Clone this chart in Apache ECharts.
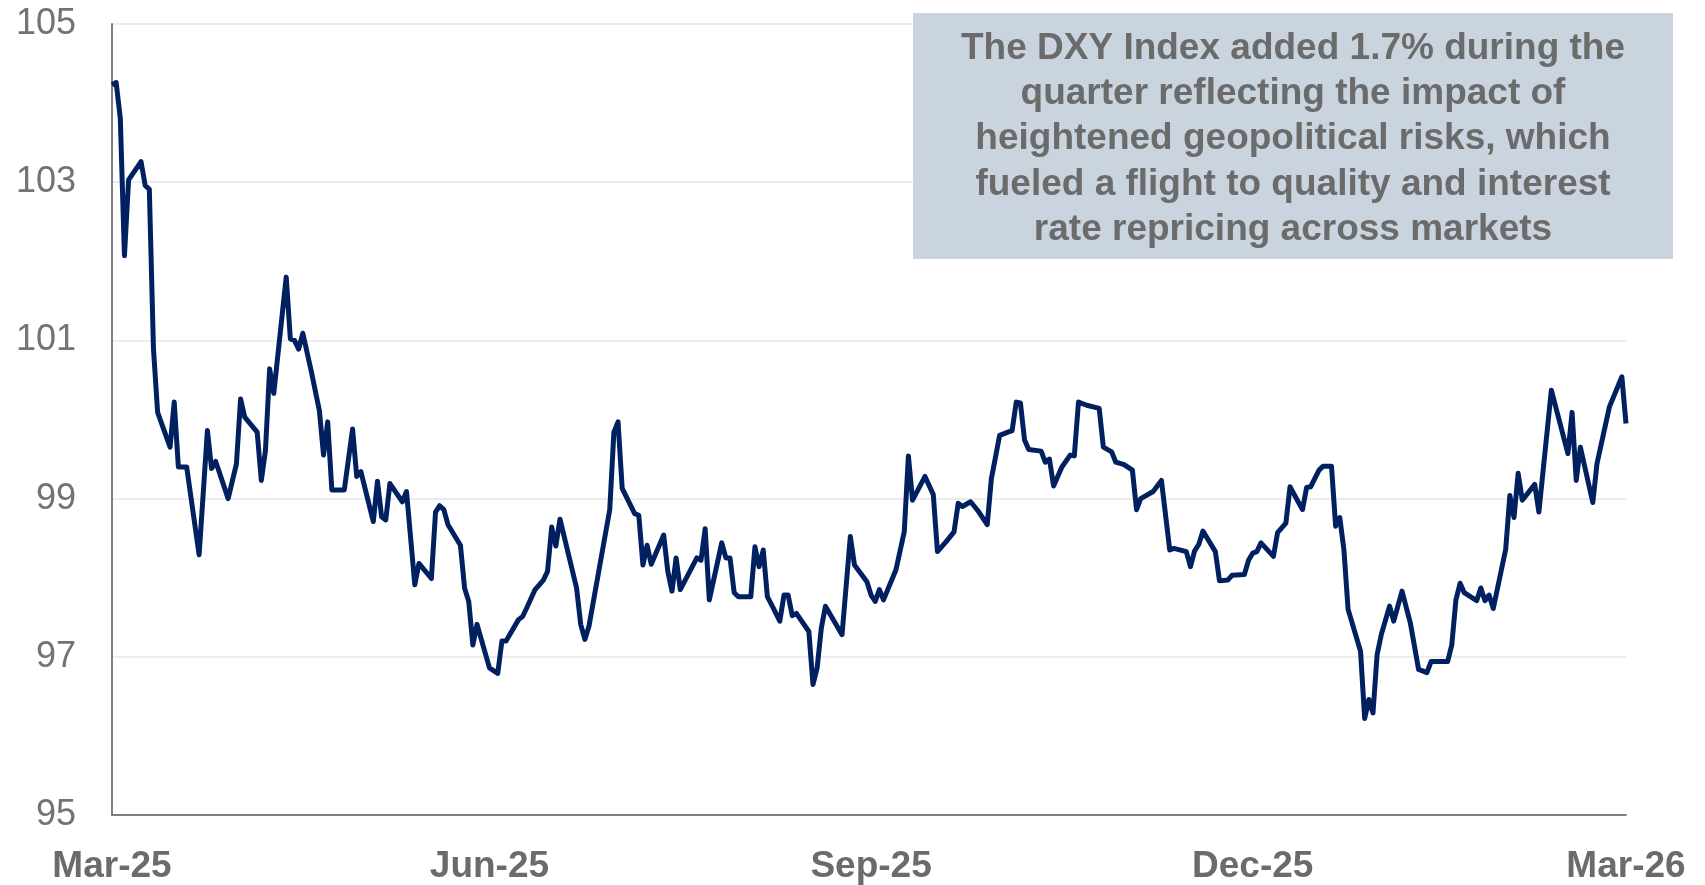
<!DOCTYPE html>
<html>
<head>
<meta charset="utf-8">
<title>DXY Index</title>
<script src="https://cdn.jsdelivr.net/npm/echarts@6/dist/echarts.min.js"></script>
<style>
    html, body { margin: 0; padding: 0; background: #fff; }
    #chart { width: 1705px; height: 885px; }
</style>
</head>
<body>
<div id="chart"></div>
<script>
    // DXY index (vertices of the line)
    const dates = [
        '2025-03-31', '2025-04-01', '2025-04-02', '2025-04-03', '2025-04-04', '2025-04-07', '2025-04-08', '2025-04-09',
        '2025-04-10', '2025-04-11', '2025-04-14', '2025-04-15', '2025-04-16', '2025-04-18', '2025-04-21', '2025-04-23',
        '2025-04-24', '2025-04-25', '2025-04-28', '2025-04-30', '2025-05-01', '2025-05-02', '2025-05-05', '2025-05-06',
        '2025-05-07', '2025-05-08', '2025-05-09', '2025-05-12', '2025-05-13', '2025-05-14', '2025-05-15', '2025-05-16',
        '2025-05-18', '2025-05-20', '2025-05-21', '2025-05-22', '2025-05-23', '2025-05-26', '2025-05-28', '2025-05-29',
        '2025-05-30', '2025-06-02', '2025-06-03', '2025-06-04', '2025-06-05', '2025-06-06', '2025-06-09', '2025-06-10',
        '2025-06-12', '2025-06-13', '2025-06-16', '2025-06-17', '2025-06-18', '2025-06-19', '2025-06-20', '2025-06-23',
        '2025-06-24', '2025-06-25', '2025-06-26', '2025-06-27', '2025-06-30', '2025-07-02', '2025-07-03', '2025-07-04',
        '2025-07-07', '2025-07-08', '2025-07-09', '2025-07-11', '2025-07-13', '2025-07-14', '2025-07-15', '2025-07-16',
        '2025-07-17', '2025-07-21', '2025-07-22', '2025-07-23', '2025-07-24', '2025-07-29', '2025-07-30', '2025-07-31',
        '2025-08-01', '2025-08-04', '2025-08-05', '2025-08-06', '2025-08-07', '2025-08-08', '2025-08-11', '2025-08-12',
        '2025-08-13', '2025-08-14', '2025-08-15', '2025-08-19', '2025-08-20', '2025-08-21', '2025-08-22', '2025-08-25',
        '2025-08-26', '2025-08-27', '2025-08-28', '2025-08-29', '2025-09-01', '2025-09-02', '2025-09-03', '2025-09-04',
        '2025-09-05', '2025-09-06', '2025-09-08', '2025-09-09', '2025-09-10', '2025-09-11', '2025-09-12', '2025-09-15',
        '2025-09-16', '2025-09-17', '2025-09-18', '2025-09-19', '2025-09-23', '2025-09-25', '2025-09-26', '2025-09-29',
        '2025-09-30', '2025-10-01', '2025-10-02', '2025-10-03', '2025-10-06', '2025-10-08', '2025-10-09', '2025-10-10',
        '2025-10-13', '2025-10-15', '2025-10-16', '2025-10-18', '2025-10-20', '2025-10-21', '2025-10-22', '2025-10-24',
        '2025-10-26', '2025-10-28', '2025-10-29', '2025-10-31', '2025-11-02', '2025-11-03', '2025-11-04', '2025-11-05',
        '2025-11-06', '2025-11-07', '2025-11-10', '2025-11-11', '2025-11-12', '2025-11-13', '2025-11-15', '2025-11-17',
        '2025-11-18', '2025-11-19', '2025-11-21', '2025-11-24', '2025-11-25', '2025-11-27', '2025-11-28', '2025-11-30',
        '2025-12-02', '2025-12-03', '2025-12-04', '2025-12-07', '2025-12-09', '2025-12-11', '2025-12-12', '2025-12-15',
        '2025-12-16', '2025-12-17', '2025-12-18', '2025-12-19', '2025-12-22', '2025-12-23', '2025-12-25', '2025-12-26',
        '2025-12-29', '2025-12-30', '2025-12-31', '2026-01-01', '2026-01-02', '2026-01-05', '2026-01-06', '2026-01-08',
        '2026-01-09', '2026-01-12', '2026-01-13', '2026-01-14', '2026-01-16', '2026-01-17', '2026-01-19', '2026-01-20',
        '2026-01-21', '2026-01-22', '2026-01-23', '2026-01-26', '2026-01-27', '2026-01-28', '2026-01-29', '2026-01-30',
        '2026-01-31', '2026-02-02', '2026-02-03', '2026-02-05', '2026-02-07', '2026-02-09', '2026-02-11', '2026-02-12',
        '2026-02-16', '2026-02-17', '2026-02-18', '2026-02-19', '2026-02-20', '2026-02-23', '2026-02-24', '2026-02-25',
        '2026-02-26', '2026-02-27', '2026-03-02', '2026-03-03', '2026-03-04', '2026-03-05', '2026-03-06', '2026-03-09',
        '2026-03-10', '2026-03-13', '2026-03-17', '2026-03-18', '2026-03-19', '2026-03-20', '2026-03-23', '2026-03-24',
        '2026-03-27', '2026-03-30', '2026-03-31'
    ];
    const dxyValues = [
        104.23, 104.26, 103.81, 102.07, 103.03, 103.26, 102.96, 102.91,
        100.89, 100.09, 99.65, 100.22, 99.40, 99.40, 98.29, 99.86,
        99.38, 99.47, 99.00, 99.44, 100.26, 100.03, 99.84, 99.23,
        99.61, 100.64, 100.33, 101.80, 101.02, 101.00, 100.89, 101.09,
        100.62, 100.11, 99.55, 99.97, 99.11, 99.11, 99.88, 99.28,
        99.34, 98.71, 99.22, 98.77, 98.73, 99.19, 98.96, 99.09,
        97.91, 98.18, 97.99, 98.83, 98.91, 98.86, 98.67, 98.41,
        97.87, 97.70, 97.15, 97.41, 96.86, 96.79, 97.20, 97.20,
        97.47, 97.51, 97.62, 97.85, 97.97, 98.08, 98.64, 98.40,
        98.74, 97.87, 97.41, 97.22, 97.39, 98.86, 99.84, 99.97,
        99.13, 98.81, 98.79, 98.16, 98.41, 98.17, 98.54, 98.08,
        97.83, 98.25, 97.85, 98.25, 98.22, 98.62, 97.72, 98.44,
        98.25, 98.25, 97.81, 97.76, 97.76, 98.39, 98.14, 98.35,
        97.76, 97.66, 97.45, 97.78, 97.78, 97.52, 97.55, 97.32,
        96.65, 96.86, 97.36, 97.64, 97.28, 98.52, 98.16, 97.95,
        97.78, 97.70, 97.85, 97.72, 98.10, 98.58, 99.54, 98.98,
        99.28, 99.05, 98.33, 98.45, 98.58, 98.94, 98.90, 98.96,
        98.83, 98.67, 99.25, 99.80, 99.84, 99.86, 100.22, 100.21,
        99.74, 99.62, 99.60, 99.46, 99.50, 99.16, 99.40, 99.55,
        99.54, 100.22, 100.18, 100.14, 99.65, 99.59, 99.46, 99.43,
        99.36, 98.86, 99.00, 99.09, 99.23, 98.35, 98.37, 98.33,
        98.14, 98.34, 98.42, 98.59, 98.33, 97.96, 97.97, 98.03,
        98.04, 98.22, 98.31, 98.33, 98.44, 98.27, 98.57, 98.69,
        99.15, 98.86, 99.14, 99.15, 99.36, 99.41, 99.41, 98.65,
        98.76, 98.35, 97.60, 97.07, 96.22, 96.46, 96.29, 97.03,
        97.28, 97.64, 97.45, 97.83, 97.43, 96.84, 96.80, 96.94,
        96.94, 97.15, 97.72, 97.93, 97.81, 97.71, 97.87, 97.71,
        97.78, 97.61, 98.36, 99.04, 98.76, 99.32, 98.98, 99.18,
        98.83, 100.37, 99.57, 100.09, 99.23, 99.65, 98.95, 99.44,
        100.16, 100.54, 99.95
    ];

    const tickDates = ['2025-03-31', '2025-06-30', '2025-09-30', '2025-12-31', '2026-03-31'];
    const tickLabels = ['Mar-25', 'Jun-25', 'Sep-25', 'Dec-25', 'Mar-26'];

    const noteLines = [
        'The DXY Index added 1.7% during the',
        'quarter reflecting the impact of',
        'heightened geopolitical risks, which',
        'fueled a flight to quality and interest',
        'rate repricing across markets'
    ];

    const chart = echarts.init(document.getElementById('chart'));
    const toTime = d => echarts.time.parse(d).getTime();
    const tickTimes = tickDates.map(toTime);

    const option = {
        animation: false,
        backgroundColor: '#ffffff',
        grid: {
            left: 112,
            right: 79,
            top: 24,
            bottom: 67
        },
        xAxis: {
            type: 'value',
            min: tickTimes[0],
            max: tickTimes[tickTimes.length - 1],
            axisLine: { show: true, lineStyle: { color: '#7f7f7f', width: 2 } },
            axisTick: { show: false },
            splitLine: { show: false },
            axisLabel: {
                customValues: tickTimes,
                showMinLabel: true,
                showMaxLabel: true,
                margin: 33,
                color: '#6b6b6b',
                fontFamily: 'Liberation Sans, Arial, sans-serif',
                fontWeight: 'bold',
                fontSize: 37,
                formatter: (val) => {
                    let best = 0;
                    tickTimes.forEach((t, i) => {
                        if (Math.abs(t - val) < Math.abs(tickTimes[best] - val)) best = i;
                    });
                    return tickLabels[best];
                }
            }
        },
        yAxis: {
            type: 'value',
            min: 95,
            max: 105,
            interval: 2,
            axisLine: { show: true, lineStyle: { color: '#7f7f7f', width: 2 } },
            axisTick: { show: false },
            splitLine: { show: true, lineStyle: { color: '#ececec', width: 2 } },
            axisLabel: {
                margin: 36,
                color: '#737373',
                fontFamily: 'Liberation Sans, Arial, sans-serif',
                fontSize: 36
            }
        },
        series: [{
            type: 'line',
            data: dates.map((d, i) => [toTime(d), dxyValues[i]]),
            showSymbol: false,
            lineStyle: { color: '#002060', width: 5, join: 'round' },
            z: 5
        }],
        graphic: [
            {
                type: 'rect',
                z: 100,
                shape: { x: 913, y: 13, width: 760, height: 246 },
                style: { fill: '#c9d4df' }
            },
            {
                type: 'text',
                z: 101,
                x: 1293,
                y: 139,
                style: {
                    text: noteLines.join('\n'),
                    fill: '#6b6b6b',
                    font: 'bold 37px "Liberation Sans", Arial, sans-serif',
                    align: 'center',
                    verticalAlign: 'middle',
                    lineHeight: 45.3
                }
            }
        ]
    };
    chart.setOption(option);
</script>
</body>
</html>
